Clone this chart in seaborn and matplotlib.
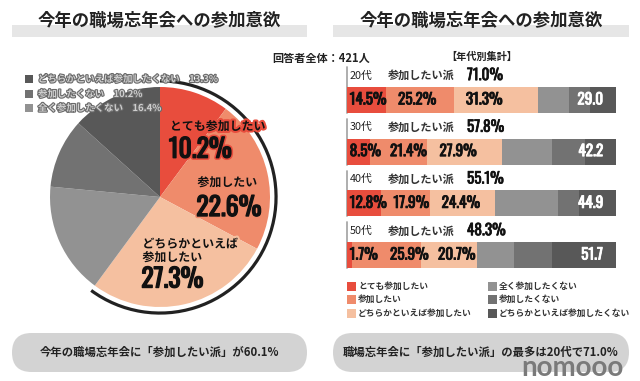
import numpy as np
import pandas as pd
import matplotlib
matplotlib.use("Agg")
import matplotlib.pyplot as plt
import matplotlib.patheffects as pe
from matplotlib.patches import Rectangle, FancyBboxPatch, Arc
from matplotlib import font_manager as fm
import seaborn as sns

# ---------------- data ----------------
pie_labels = ["とても参加したい", "参加したい", "どちらかといえば参加したい",
              "全く参加したくない", "参加したくない", "どちらかといえば参加したくない"]
pie_values = [10.2, 22.6, 27.3, 16.4, 10.2, 13.3]

ages = ["20代", "30代", "40代", "50代"]
very_want = [14.5, 8.5, 12.8, 1.7]
want = [25.2, 21.4, 17.9, 25.9]
rather_want = [31.3, 27.9, 24.4, 20.7]
not_at_all = [11.5, 18.3, 23.4, 13.8]
not_want = [7.7, 12.3, 7.8, 14.1]
rather_not = [9.8, 11.6, 13.7, 23.8]

respondents = 421

colors = ["#e84d3d", "#ef8b6b", "#f5c0a0", "#929292", "#727272", "#585858"]

# ---------------- style ----------------
sns.set_theme(style="white")
plt.rcParams["font.family"] = ["Noto Sans CJK JP", "DejaVu Sans"]

names = {f.name for f in fm.fontManager.ttflist}
NUM = dict(family="DejaVu Sans", weight="bold")
for fam, wt in [("Oswald", "bold"), ("Fjalla One", "normal"), ("Barlow Condensed", "bold"),
                ("Roboto Condensed", "bold")]:
    if fam in names:
        NUM = dict(family=fam, weight=wt)
        break

def heavy(col, extra=None, w=0.7):
    effs = []
    if extra is not None:
        effs.append(pe.Stroke(linewidth=3.2, foreground=extra))
    effs.append(pe.Stroke(linewidth=w, foreground=col))
    effs.append(pe.Normal())
    return effs

W, H = 640, 381
fig = plt.figure(figsize=(W / 100, H / 100), dpi=100)
fig.patch.set_facecolor("white")

def px_axes(x0, y0, w, h, z=1):
    return fig.add_axes([x0 / W, 1 - (y0 + h) / H, w / W, h / H], zorder=z)

# background / overlay pixel axes
bg = px_axes(0, 0, W, H, z=0)
bg.set_xlim(0, W); bg.set_ylim(H, 0); bg.axis("off")
ov = px_axes(0, 0, W, H, z=10)
ov.set_xlim(0, W); ov.set_ylim(H, 0); ov.axis("off"); ov.patch.set_alpha(0)

# titles
for x0, x1 in [(12, 307), (333, 629)]:
    bg.add_patch(Rectangle((x0, 25), x1 - x0, 12, color="#e6e6e6", lw=0))
    bg.text((x0 + x1) / 2, 21, "今年の職場忘年会への参加意欲", ha="center", va="center",
            fontsize=12.5, weight="bold", color="#222222")

bg.text(321, 58, f"回答者全体：{respondents}人", ha="center", va="center", fontsize=8, weight="bold", color="#222222")
bg.text(482, 57, "【年代別集計】", ha="center", va="center", fontsize=7.3, weight="bold", color="#222222")

# ---------------- pie ----------------
U = 110.0
ext = 1.12
axp = px_axes(160 - U * ext, 197 - U * ext, 2 * U * ext, 2 * U * ext, z=2)
axp.pie(pie_values, colors=colors, startangle=90, counterclock=False, radius=1,
        wedgeprops=dict(linewidth=0))
axp.set_xlim(-ext, ext); axp.set_ylim(-ext, ext); axp.set_aspect("equal"); axp.axis("off")
pos_share = sum(pie_values[:3])
axp.add_patch(Arc((0, 0), 2.11, 2.11, theta1=90 - pos_share * 3.6, theta2=90,
                  color="#222222", lw=2.3))

pie_text = [
    (0.09, 0.64, "とても参加したい", 0.43, colors[0]),
    (0.34, 0.13, "参加したい", -0.10, colors[1]),
    (-0.16, -0.49, "どちらかといえば\n参加したい", -0.75, colors[2]),
]
for i, (tx, ty, lab, vy, c) in enumerate(pie_text):
    axp.text(tx, ty, lab, ha="left", va="center", fontsize=8.6, weight="bold", color="#111111",
             linespacing=1.05, path_effects=[pe.withStroke(linewidth=3, foreground=c)])
    axp.text(tx - 0.01, vy, f"{pie_values[i]:.1f}%", ha="left", va="center", fontsize=18.5,
             color="#111111", path_effects=heavy("#111111", extra=c, w=1.0), **NUM)

# left legend (overlay)
leg_rows = [(79, 5), (94, 4), (108, 3)]
for y, idx in leg_rows:
    ov.add_patch(Rectangle((25, y - 4), 8, 8, color=colors[idx], lw=0))
    ov.text(38, y, f"{pie_labels[idx]}　{pie_values[idx]:.1f}%", ha="left", va="center",
            fontsize=6.8, weight="bold", color="#cfcfcf",
            path_effects=[pe.withStroke(linewidth=1.6, foreground="#6a6a6a")])

# ---------------- stacked bars ----------------
segs = [very_want, want, rather_want, not_at_all, not_want, rather_not]
seg_arr = np.array(segs)
cum = np.cumsum(seg_arr, axis=0)
starts = cum - seg_arr

axb = px_axes(347, 87, 269, 181, z=2)
for k in range(len(segs) - 1, -1, -1):
    df = pd.DataFrame({"age": ages, "value": cum[k]})
    sns.barplot(data=df, x="value", y="age", order=ages, orient="h", color=colors[k],
                saturation=1, width=0.5, errorbar=None, linewidth=0, ax=axb)
axb.set_xlim(0, 100)
axb.set_ylim(3.25, -0.25)
axb.axis("off")

ppu = 269 / 100.0
pos_total = cum[2]
neg_total = 100 - cum[2]
for i, age in enumerate(ages):
    axb.plot([0, 0], [i - 0.63, i + 0.25], color="#a8a8a8", lw=1.3, clip_on=False, zorder=0)
    ly = i - 0.47
    axb.text(1.1, ly, age, ha="left", va="center", fontsize=7.8, color="#222222", clip_on=False)
    axb.text(15.2, ly, "参加したい派", ha="left", va="center", fontsize=8, weight="bold",
             color="#333333", clip_on=False)
    axb.text(44.6, ly, f"{pos_total[i]:.1f}%", ha="left", va="center", fontsize=11,
             color="#111111", clip_on=False, path_effects=heavy("#111111", w=0.5), **NUM)
    x1 = starts[0, i] + 1.0
    x2 = max(starts[1, i] + 12 / ppu, 43 / ppu)
    x3 = max(starts[2, i] + 12 / ppu, 91 / ppu)
    for xk, k in [(x1, 0), (x2, 1), (x3, 2)]:
        axb.text(xk, i, f"{seg_arr[k, i]:.1f}%", ha="left", va="center", fontsize=11,
                 color="#111111", zorder=5, path_effects=heavy("#111111", w=0.6), **NUM)
    axb.text(100 - 13 / ppu, i, f"{neg_total[i]:.1f}", ha="right", va="center", fontsize=11,
             color="white", zorder=5, path_effects=heavy("white", w=0.6), **NUM)

# bottom legend
leg_items = [(347, 286, 0), (347, 299, 1), (347, 313, 2),
             (488, 286, 3), (488, 299, 4), (488, 313, 5)]
for x, y, idx in leg_items:
    bg.add_patch(Rectangle((x, y - 4.5), 9, 9, color=colors[idx], lw=0))
    bg.text(x + 11, y, pie_labels[idx], ha="left", va="center", fontsize=6.3, weight="bold",
            color="#333333")

# summary pills
pills = [(12, 307, f"今年の職場忘年会に「参加したい派」が{pos_share:.1f}%"),
         (333, 629, f"職場忘年会に「参加したい派」の最多は{ages[0]}で{pos_total[0]:.1f}%")]
for x0, x1, txt in pills:
    bg.add_patch(FancyBboxPatch((x0, 333), x1 - x0, 39,
                                boxstyle="round,pad=0,rounding_size=19.5",
                                fc="#d3d3d3", ec="none"))
    bg.text((x0 + x1) / 2, 352, txt, ha="center", va="center", fontsize=8.2, weight="bold",
            color="#222222")

# logo
ov.text(521, 376, "nomooo", ha="left", va="baseline", fontsize=20, weight="bold",
        family="Lato", color="#7a7a7a")

fig.savefig("out.png", dpi=100, facecolor="white")
